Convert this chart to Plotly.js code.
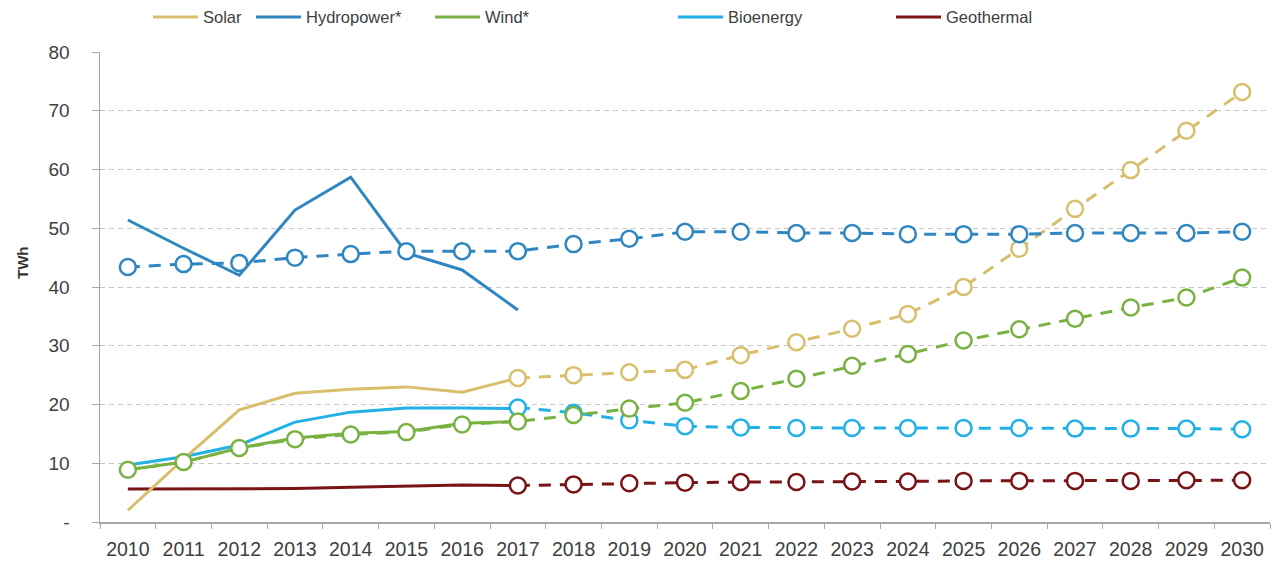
<!DOCTYPE html>
<html>
<head>
<meta charset="utf-8">
<script src="https://cdn.plot.ly/plotly-3.0.1.min.js"></script>
<style>html,body{margin:0;padding:0;background:#fff;}#chart{width:1284px;height:565px;}</style>
</head>
<body>
<div id="chart"></div>
<script>
// ---- data ----
const years = ["2010","2011","2012","2013","2014","2015","2016","2017","2018","2019","2020",
  "2021","2022","2023","2024","2025","2026","2027","2028","2029","2030"];
const histYears = years.slice(0, 8);          // 2010-2017
const projYears = years.slice(7);             // 2017-2030

const solarHist = [2.0, 10.7, 19.1, 21.9, 22.6, 23.0, 22.1, 24.5];
const hydroHist = [51.4, 46.6, 42.0, 53.1, 58.7, 45.8, 42.9, 36.1];
const windHist  = [8.9, 10.2, 12.6, 14.3, 15.1, 15.4, 16.8, 17.1];
const bioHist   = [9.7, 11.1, 13.1, 17.0, 18.7, 19.4, 19.4, 19.3];
const geoHist   = [5.6, 5.6, 5.6, 5.7, 5.9, 6.1, 6.3, 6.2];

const solarProj = [24.5, 25.0, 25.5, 25.9, 28.4, 30.6, 32.9, 35.4, 40.0, 46.5, 53.3, 59.9, 66.6, 73.2];
const hydroProj = [43.4, 43.9, 44.1, 45.0, 45.6, 46.1, 46.1, 46.1, 47.3, 48.2, 49.4, 49.4, 49.2, 49.2,
  49.0, 49.0, 49.0, 49.2, 49.2, 49.2, 49.4];
const windProj  = [8.9, 10.2, 12.6, 14.1, 14.9, 15.3, 16.6, 17.1, 18.2, 19.3, 20.3, 22.3, 24.4, 26.6,
  28.6, 30.9, 32.8, 34.6, 36.5, 38.2, 41.6];
const bioProj   = [19.5, 18.6, 17.3, 16.3, 16.1, 16.0, 16.0, 16.0, 16.0, 16.0, 15.9, 15.9, 15.9, 15.8];
const geoProj   = [6.2, 6.4, 6.6, 6.7, 6.8, 6.8, 6.9, 6.9, 7.0, 7.0, 7.0, 7.0, 7.1, 7.1];

const yTickVals = [0, 10, 20, 30, 40, 50, 60, 70, 80];
const yTickText = ["-", "10", "20", "30", "40", "50", "60", "70", "80"];

const names = ["Solar", "Hydropower*", "Wind*", "Bioenergy", "Geothermal"];
const colors = ["#D9BE6C", "#2F86C0", "#79B243", "#22B1E6", "#7A1315"];

// ---- traces ----
const FONT = "Liberation Sans, Arial, sans-serif";
function hist(x, y, i, leg) {
  return {x: x, y: y, type: "scatter", mode: "lines", name: names[i],
    line: {color: colors[i], width: 3}, legend: leg, showlegend: true, hoverinfo: "skip"};
}
function proj(x, y, i) {
  return {x: x, y: y, type: "scatter", mode: "lines+markers", showlegend: false,
    line: {color: colors[i], width: 3, dash: "12px,9px"},
    marker: {symbol: "circle", size: 16, color: "#ffffff", line: {color: colors[i], width: 2.5}},
    hoverinfo: "skip"};
}
const traces = [
  hist(histYears, geoHist, 4, "legend5"),
  hist(histYears, bioHist, 3, "legend4"),
  hist(histYears, windHist, 2, "legend3"),
  hist(histYears, solarHist, 0, "legend"),
  hist(histYears, hydroHist, 1, "legend2"),
  proj(projYears, geoProj, 4),
  proj(projYears, bioProj, 3),
  proj(years, windProj, 2),
  proj(projYears, solarProj, 0),
  proj(years, hydroProj, 1)
];

// legend positions (pixel of line start) -> paper coords
const L = 100, W = 1170;
function leg(px) {
  return {x: (px - 7 - L) / W, xanchor: "left", y: 1.074, yanchor: "middle",
    orientation: "h", bgcolor: "rgba(0,0,0,0)", font: {family: FONT, size: 16.5, color: "#404040"},
    itemwidth: 45};
}

const layout = {
  width: 1284, height: 565,
  margin: {l: 100, r: 14, t: 52, b: 43, autoexpand: false},
  paper_bgcolor: "#ffffff", plot_bgcolor: "#ffffff",
  font: {family: FONT, color: "#404040"},
  legend: leg(155), legend2: leg(258), legend3: leg(437), legend4: leg(680), legend5: leg(898),
  xaxis: {
    type: "category", categoryorder: "array", categoryarray: years,
    range: [-0.5, 20.5], showgrid: false, zeroline: false,
    showline: true, linecolor: "#A6A6A6", linewidth: 1.5,
    ticks: "outside", tickson: "boundaries", ticklen: 5, tickcolor: "#A6A6A6",
    tickfont: {family: FONT, size: 19.5, color: "#404040"}, ticklabelstandoff: 9,
    fixedrange: true
  },
  yaxis: {
    range: [0, 80], tickvals: yTickVals, ticktext: yTickText,
    showgrid: true, gridcolor: "#C8C8C8", griddash: "5px,4px", gridwidth: 1,
    zeroline: false, showline: true, linecolor: "#A6A6A6", linewidth: 1.5,
    ticks: "outside", ticklen: 7, tickcolor: "#A6A6A6",
    tickfont: {family: FONT, size: 19, color: "#404040"}, ticklabelstandoff: 18,
    fixedrange: true
  },
  annotations: [{
    text: "<b>TWh</b>", xref: "paper", yref: "paper", x: (22 - L) / W, y: (522 - 263) / 470,
    xanchor: "center", yanchor: "middle", textangle: -90, showarrow: false,
    font: {family: FONT, size: 15, color: "#333333"}
  }]
};

Plotly.newPlot("chart", traces, layout, {displayModeBar: false, staticPlot: true});
</script>
</body>
</html>
